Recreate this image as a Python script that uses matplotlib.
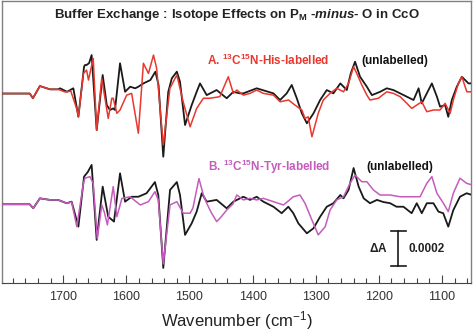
import matplotlib
matplotlib.use("Agg")
import matplotlib.pyplot as plt
import numpy as np

plt.rcParams['font.family'] = ['Liberation Sans', 'DejaVu Sans']
plt.rcParams['mathtext.fontset'] = 'custom'
plt.rcParams['mathtext.rm'] = 'Liberation Sans'
plt.rcParams['mathtext.it'] = 'Liberation Sans:italic'
plt.rcParams['mathtext.bf'] = 'Liberation Sans:bold'
plt.rcParams['mathtext.bfit'] = 'Liberation Sans:bold:italic'

# difference spectra, dA in units of 1e-4
his_unl_wn = [1797, 1753, 1748, 1737, 1721, 1708, 1705, 1694, 1689, 1684, 1676, 1667, 1665.6, 1663,
              1659, 1655, 1647, 1637.5, 1631, 1626, 1621, 1618, 1610, 1602, 1594, 1586, 1581, 1573,
              1562, 1554, 1549, 1541.5, 1533.6, 1528, 1520, 1515, 1507, 1496.5, 1488.6, 1483.3,
              1472.7, 1457, 1441, 1430.5, 1420, 1414.7, 1393.5, 1367, 1356.5, 1346, 1338, 1330,
              1322, 1314, 1303.5, 1293, 1282.5, 1272, 1261, 1250.8, 1244.5, 1237.7, 1229.8, 1219,
              1211, 1198, 1187.4, 1177, 1166.3, 1155.7, 1145, 1137, 1132, 1124, 1116, 1108, 1103,
              1095, 1090, 1084.4, 1076.5, 1068.5, 1058, 1052]
his_unl_da = [0, 0, -0.27, 0.43, 0.24, 0.24, 0.30, 0.10, 0.2, 0.30, -1.33, 1.53, 1.63, 1.63,
              1.74, 2.2, -2.09, 1.06, -0.66, -0.94, -0.85, -0.94, 1.73, 0.10, 0.39, 0.30, 0.39, 0.58,
              0.77, 1.25, 0.49, -3.61, 0.10, 0.87, 1.25, 0.67, -1.80, -0.66, 0.10, 0.58,
              -0.09, 0.2, -0.27, 0.10, 0.01, 0.01, 0.30, 0.01, -0.37, 0.01, 0.49, -0.27,
              -1.13, -1.70, -1.13, -0.37, 0.2, 0.01, 0.58, 0.2, 1.15, 1.82, 0.96, 0.39,
              -0.09, 0.10, 0.30, 0.2, 0.01, -0.18, -0.37, 0.30, -0.56, 0.01, 0.58, -0.18, -0.75,
              -0.66, -1.33, -0.37, 0.39, 0.96, 0.58, 0.58]

his_lab_wn = [1797, 1753, 1748, 1737, 1721, 1708, 1697, 1688, 1678, 1676, 1668, 1663, 1660, 1652.5,
              1647, 1639, 1628.7, 1623, 1620.8, 1615, 1610, 1599.5, 1591.6, 1581, 1573, 1565, 1557,
              1552, 1541.5, 1531, 1520, 1510, 1499, 1488.6, 1478, 1467.5, 1452, 1438.5, 1430.5,
              1425, 1414.7, 1404, 1393.5, 1383, 1367, 1356.5, 1343, 1332.8, 1322, 1317, 1312, 1306,
              1296, 1288, 1277.3, 1266.7, 1256, 1248, 1240, 1235, 1227, 1219, 1214, 1200.7, 1187.4,
              1177, 1166.3, 1155.7, 1147.8, 1140, 1132, 1124, 1113.5, 1103, 1095, 1087, 1082, 1074,
              1068.5, 1060.6, 1052]
his_lab_da = [0, 0, -0.27, 0.43, 0.24, 0.24, 0.09, 0.14, -0.94, -1.33, 1.15, 1.34, 0.77, 2.01,
              -2.09, 0.87, -1.42, -0.27, -0.27, -1.13, -0.94, -0.09, 0.01, -2.27, 1.73, 1.15, 2.2,
              1.44, -2.94, 0.30, 1.06, -0.47, -1.90, -0.85, -0.27, -0.27, -0.18, 0.96, 0.01,
              0.2, -0.09, 0.01, 0.2, 0.01, -0.09, -0.47, -0.37, -0.66, -0.94, -1.42, -1.33, -2.47,
              -1.13, -0.37, 0.01, 0.30, 0.10, 0.58, 1.53, 1.15, 0.49, -0.09, -0.37, -0.27, 0.10,
              0.01, -0.18, -0.56, -0.85, -0.66, -0.47, -1.04, -0.94, -0.94, -0.56, -1.13, -0.37, 0.58,
              0.96, 0.10, 0.10]

tyr_unl_wn = [1797, 1753, 1747.5, 1737, 1721, 1708, 1694.6, 1686.7, 1676, 1667, 1661, 1655, 1647,
              1637.5, 1628.7, 1619.6, 1610, 1602, 1591.6, 1581, 1568, 1554.7, 1549.4, 1541.5,
              1530.8, 1520, 1515, 1507, 1496.5, 1488.6, 1480.6, 1472.7, 1457, 1441, 1430.5, 1414.7,
              1404, 1393.5, 1383, 1367, 1354, 1343.4, 1335.5, 1327.5, 1314, 1303.5, 1293, 1282.5,
              1272, 1261, 1256, 1248, 1240, 1232, 1224, 1214, 1203, 1193, 1182, 1172, 1161, 1148,
              1140, 1132, 1124, 1113.5, 1105.6, 1098, 1090, 1082, 1071.5, 1061, 1052]
tyr_unl_da = [0, 0, -0.23, 0.34, 0.25, 0.25, 0.06, 0.15, -1.28, 1.58, 1.85, 2.25, -2.04,
              1.01, -0.71, -0.99, 1.77, 0.15, 0.43, 0.43, 0.63, 1.27, 0.53, -3.64,
              0.82, 1.27, 0.53, -1.75, -1.09, -0.42, 0.63, 0.15, 0.25, -0.23, 0.15, 0.43,
              0.25, 0.43, 0.15, -0.14, -0.51, -0.14, -0.51, -1.09, -1.66, -1.37, -0.71, -0.14,
              0.06, 0.53, 0.34, 0.82, 2.07, 1.01, 0.34, 0.06, 0.25, 0.13, 0.06, -0.14, -0.14, -0.51,
              0.06, -0.51, 0.06, 0.06, -0.42, -0.51, -1.28, -0.33, 0.43, 0.63, 0.53]

tyr_lab_wn = [1797, 1753, 1747.5, 1737, 1721, 1708, 1694.6, 1686.7, 1678.5, 1668, 1665.6, 1657.7,
              1652.5, 1646, 1639, 1635, 1630, 1620.8, 1615, 1607, 1594, 1578, 1565, 1554.7, 1549.4,
              1541.5, 1530.8, 1520, 1510, 1499, 1494.5, 1485, 1478, 1472.7, 1466, 1457, 1450, 1441,
              1431, 1425, 1414.7, 1404, 1393.5, 1383, 1367, 1351, 1335.5, 1325, 1317, 1306, 1296,
              1285, 1277.3, 1266.7, 1256, 1245.6, 1237.7, 1227, 1219, 1208.7, 1198, 1182, 1166.3,
              1150.5, 1134.7, 1124, 1116, 1108, 1097.7, 1090, 1082, 1071.5, 1061, 1052]
tyr_lab_da = [0, 0, -0.23, 0.34, 0.25, 0.25, 0.06, 0.13, -1.28, 1.2, 1.49, 1.58,
              1.2, -1.98, -0.04, -0.44, -1.18, 1.01, -0.71, 0.34, 0.43, -0.04, 0.15, 0.72, 0.25,
              -3.41, -0.04, 0.15, -0.51, -0.51, -0.21, 1.47, 0.53, 0.06, -0.44, -0.99, -0.73, -0.33,
              0.02, 0.53, 0.25, 0.34, 0.25, 0.34, 0.15, -0.04, 0.43, 0.53, 0.06, -0.9, -1.75,
              -1.28, -0.33, 0.25, 0.43, 1.2, 1.67, 1.29, 1.29, 0.82, 0.53, 0.53, 0.43,
              0.43, 0.43, 1.2, 1.58, 0.63, 0.06, -0.42, 0.63, 1.49, 1.2, 1.1]

offset_top = 6.33
scale_bar = 2.0   # 1e-4 units

fig = plt.figure(figsize=(4.74, 3.35), dpi=100)
ax = fig.add_axes([2 / 474, 52 / 335, 469 / 474, 282 / 335])

black = '#1a1a1a'
red = '#e8382e'
mag = '#c45cbc'

ax.plot(his_unl_wn, np.array(his_unl_da) + offset_top, color=black, lw=1.3, zorder=3)
ax.plot(his_lab_wn, np.array(his_lab_da) + offset_top, color=red, lw=1.1, zorder=4)
ax.plot(tyr_unl_wn, tyr_unl_da, color=black, lw=1.3, zorder=3)
ax.plot(tyr_lab_wn, tyr_lab_da, color=mag, lw=1.1, zorder=4)

ax.set_xlim(1797, 1054)
ax.set_ylim(-4.5, 11.62)
ax.set_xticks(np.arange(1700, 1099, -100))
ax.set_xticks(np.arange(1780, 1059, -20), minor=True)
ax.set_yticks([])
ax.tick_params(axis='x', which='major', direction='in', length=6, width=0.8,
               colors='#444444', labelcolor='#333333', labelsize=9, pad=6)
ax.tick_params(axis='x', which='minor', direction='in', length=3.5, width=0.8, colors='#444444')
for s in ['left', 'top', 'right']:
    ax.spines[s].set_color('#808080')
    ax.spines[s].set_linewidth(1.0)
ax.spines['bottom'].set_color('#444444')
ax.set_xlabel('Wavenumber (cm$^{-1}$)', fontsize=12, color='#222222', labelpad=4)

ax.text(0.5, 0.95, r'Buffer Exchange : Isotope Effects on P$_\mathbf{M}$ -$\mathbfit{minus}$- O in CcO',
        transform=ax.transAxes, ha='center', va='center', fontsize=9.5, fontweight='bold',
        color='#222222')

ax.text(1472, 8.2, r'A. $^{\mathbf{13}}$C$^{\mathbf{15}}$N-His-labelled', color=red,
        fontsize=8.5, fontweight='bold', ha='left', va='center')
ax.text(1227, 8.2, '(unlabelled)', color='#111111', fontsize=8.5, fontweight='bold',
        ha='left', va='center')
ax.text(1471, 2.13, r'B. $^{\mathbf{13}}$C$^{\mathbf{15}}$N-Tyr-labelled', color=mag,
        fontsize=8.5, fontweight='bold', ha='left', va='center')
ax.text(1219, 2.13, '(unlabelled)', color='#111111', fontsize=8.5, fontweight='bold',
        ha='left', va='center')

# scale bar
bar_x = 1169.5
bar_lo = -3.53
ax.plot([bar_x, bar_x], [bar_lo, bar_lo + scale_bar], color=black, lw=1.2)
ax.plot([bar_x - 12, bar_x + 12], [bar_lo, bar_lo], color=black, lw=1.2)
ax.plot([bar_x - 12, bar_x + 12], [bar_lo + scale_bar, bar_lo + scale_bar], color=black, lw=1.2)
ax.text(bar_x + 17, bar_lo + scale_bar / 2, r'$\mathbf{\Delta}$A', fontsize=8.5, fontweight='bold',
        ha='right', va='center', color='#222222')
ax.text(bar_x - 16, bar_lo + scale_bar / 2, f'{scale_bar * 1e-4:.4f}', fontsize=8.5,
        fontweight='bold', ha='left', va='center', color='#222222')

fig.savefig('out.png', dpi=100)
